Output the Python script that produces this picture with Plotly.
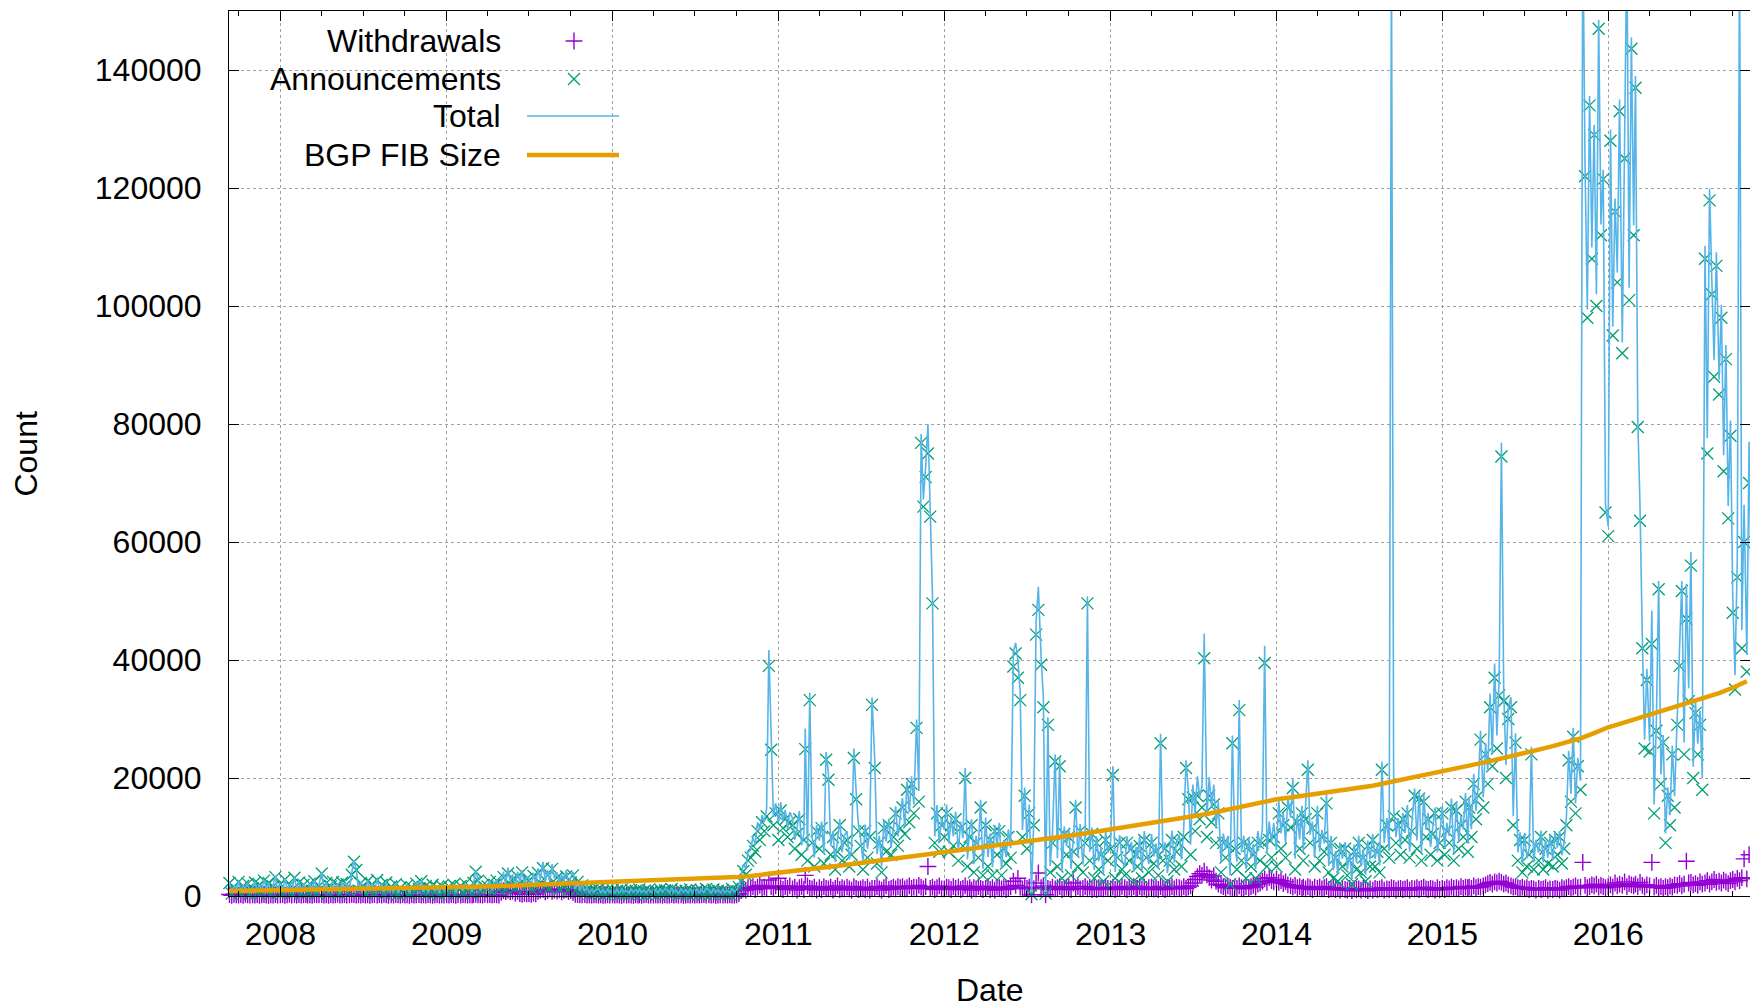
import pandas as pd
import plotly.graph_objects as go

# ---------------- data ----------------
SAMPLE_DAYS = [1, 6, 11, 16, 21, 26]          # sample days within each month
FIRST_MONTH, LAST_MONTH = "2007-09", "2016-11"

# Announcements, 6 samples per month
ANN_2007 = [  # Sep-Dec
    1800, 600, 2200, 400, 1500, 900,
    2400, 500, 1700, 800, 2100, 400,
    1300, 2300, 500, 1900, 700, 2600,
    900, 2200, 400, 1600, 3200, 600,
]
ANN_2008 = [
    2000, 600, 2800, 900, 1800, 500,
    3100, 700, 2300, 400, 1900, 1100,
    600, 2100, 900, 2500, 500, 1700,
    3800, 800, 2200, 500, 1600, 2400,
    700, 1900, 400, 2300, 1000, 2000,
    800, 3600, 5800, 4400, 900, 2200,
    1500, 500, 2500, 800, 2000, 600,
    2700, 900, 1900, 400, 2300, 700,
    1600, 500, 2000, 300, 1400, 900,
    600, 1800, 400, 1500, 800, 2100,
    1200, 2500, 500, 1700, 400, 1300,
    1900, 600, 1400, 300, 1700, 800,
]
ANN_2009 = [
    500, 1600, 800, 1900, 400, 1300,
    1700, 600, 2100, 900, 1500, 500,
    2200, 4100, 2600, 700, 1800, 1000,
    1600, 2400, 800, 1900, 2600, 1100,
    1500, 3200, 1200, 3800, 1700, 2800,
    1400, 3300, 2100, 4000, 1300, 2900,
    2600, 1200, 3400, 1500, 3900, 1800,
    4700, 1600, 3500, 1300, 4600, 2000,
    3100, 1200, 2900, 1500, 3300, 1100,
    2300, 3500, 900, 2400, 700, 1800,
    600, 1200, 400, 1000, 500, 900,
    1100, 400, 900, 300, 1000, 500,
]
ANN_2010 = [
    1000, 400, 900, 300, 1100, 500,
    800, 300, 1000, 500, 900, 400,
    1100, 500, 800, 300, 1000, 600,
    400, 900, 300, 1100, 500, 1000,
    900, 400, 1200, 500, 800, 300,
    1000, 500, 900, 300, 1100, 400,
    500, 1000, 400, 900, 300, 1200,
    800, 300, 1100, 500, 900, 400,
    1000, 400, 800, 300, 1200, 500,
    800, 1500, 2500, 4200, 3600, 6000,
    6500, 8500, 7500, 11000, 9500, 12500,
    11000, 13500, 39000, 24800, 12000, 14000,
]
ANN_2011 = [
    9500, 14500, 11500, 13000, 10000, 12500,
    12000, 8000, 10500, 13000, 7000, 9500,
    24900, 6000, 33200, 9000, 5000, 11000,
    8000, 11500, 5500, 23100, 19700, 7000,
    10000, 4500, 7500, 12000, 6000, 9000,
    9500, 5000, 7000, 23400, 16400, 11000,
    8500, 4500, 11000, 6500, 10000, 32400,
    21700, 5500, 9000, 4000, 11500, 7500,
    12000, 7000, 10000, 14000, 8500, 11500,
    15000, 10500, 18000, 12500, 19000, 14000,
    28500, 16000, 76800, 66000, 71000, 75000,
    64300, 49600, 9000, 14000, 7500, 12000,
]
ANN_2012 = [
    10000, 14000, 7500, 12000, 8500, 13000,
    6000, 11500, 8500, 20000, 5000, 10000,
    12000, 4000, 9000, 6500, 15000, 3500,
    12000, 5000, 9500, 3500, 11000, 7000,
    11000, 3500, 8000, 5500, 10000, 6500,
    38900, 41100, 37000, 33200, 10000, 17000,
    8000, 14000, 300, 12000, 44300, 48500,
    39200, 32000, 400, 29000, 4000, 9000,
    22800, 5000, 22000, 3000, 10500, 7000,
    10000, 3500, 7500, 15000, 5000, 11000,
    4000, 9000, 49600, 6000, 10500, 3000,
    9000, 4500, 7000, 2500, 9500, 6000,
]
ANN_2013 = [
    8000, 20500, 3000, 6500, 9000, 4500,
    3500, 9000, 6000, 8000, 2500, 7000,
    5000, 8500, 3000, 9500, 6500, 4000,
    9000, 5500, 7500, 3500, 25900, 6000,
    8000, 2500, 6000, 9500, 4500, 7500,
    9000, 5000, 10000, 21700, 16400, 7000,
    16700, 11000, 17000, 13000, 15000, 40300,
    10000, 17000, 12500, 15500, 9000, 14000,
    4000, 9000, 6500, 8500, 2000, 25900,
    8000, 4500, 31500, 6000, 9000, 3000,
    8500, 5000, 7000, 3000, 9000, 6000,
    9000, 39500, 5000, 9500, 6500, 10000,
]
ANN_2014 = [
    5000, 14000, 8000, 12000, 6500, 15000,
    11600, 18300, 4500, 12500, 8000, 14000,
    6000, 13000, 21400, 9000, 11500, 5000,
    14000, 6000, 10000, 7500, 15700, 4000,
    9000, 3000, 6500, 2500, 8000, 5000,
    8000, 3500, 6000, 2000, 7500, 4500,
    9000, 4000, 6500, 2500, 8500, 5000,
    9500, 5000, 7500, 4000, 21400, 8000,
    12000, 6500, 160000, 13500, 9000, 12000,
    7000, 13000, 9500, 14000, 6500, 11000,
    17000, 8000, 16500, 6000, 16000, 10000,
    13000, 7000, 10500, 14000, 6000, 9000,
]
ANN_2015 = [
    14000, 7000, 11000, 9000, 15000, 6000,
    14500, 8000, 12000, 10000, 16000, 7500,
    15000, 10000, 19000, 13000, 17000, 26500,
    15000, 24000, 19000, 32000, 22000, 37000,
    25000, 34000, 74500, 33000, 20000, 30000,
    32000, 12000, 26000, 6000, 9500, 4000,
    9500, 5000, 7000, 24000, 4500, 8500,
    6000, 10000, 4500, 8000, 5500, 9000,
    5000, 9500, 7000, 10000, 5500, 8000,
    12000, 23000, 16000, 27000, 14000, 22000,
    18000, 160000, 122000, 98000, 134000, 108000,
    129000, 100000, 147000, 112000, 121500, 65000,
]
ANN_2016 = [  # Jan-Nov
    61000, 128000, 95000, 116000, 104000, 133000,
    92000, 125000, 160000, 101000, 143600, 112000,
    137000, 79500, 63600, 42000, 25000, 36600,
    24500, 42700, 14000, 28000, 52000, 19000,
    26000, 9000, 17000, 12000, 24000, 15000,
    29000, 39000, 51700, 24000, 47000, 33000,
    56000, 20000, 31000, 24000, 29000, 18000,
    108000, 75000, 117900, 102000, 88000, 106800,
    85000, 98000, 72000, 91000, 64000, 78000,
    48000, 35000, 54000, 160000, 42000, 60000,
    38000, 70000, 44000, 50000, 45000, 60000,
]

# Withdrawals, 6 samples per month
WDR_2007 = [
    200, 150, 250, 100, 300, 180,
    150, 220, 120, 260, 180, 140,
    200, 160, 240, 120, 190, 230,
    170, 130, 210, 160, 250, 140,
]
WDR_2008 = [
    180, 240, 130, 200, 260, 150,
    220, 170, 250, 140, 190, 230,
    160, 210, 120, 250, 180, 200,
    240, 150, 190, 130, 220, 170,
    200, 260, 140, 180, 230, 160,
    190, 300, 250, 170, 210, 140,
    230, 160, 200, 120, 180, 250,
    170, 220, 150, 260, 190, 130,
    210, 140, 230, 180, 160, 240,
    150, 200, 130, 220, 170, 190,
    240, 160, 210, 140, 250, 180,
    130, 190, 220, 160, 200, 150,
]
WDR_2009 = [
    200, 150, 240, 180, 130, 220,
    170, 250, 190, 140, 210, 160,
    230, 300, 180, 200, 150, 260,
    190, 220, 160, 240, 200, 170,
    600, 900, 750, 1000, 700, 850,
    500, 800, 400, 300, 450, 350,
    400, 300, 500, 350, 800, 950,
    1100, 700, 900, 1200, 800, 1000,
    850, 1050, 700, 950, 1100, 750,
    900, 600, 300, 250, 200, 180,
    220, 160, 200, 140, 180, 210,
    150, 190, 130, 170, 200, 160,
]
WDR_2010 = [
    180, 140, 200, 160, 120, 190,
    150, 210, 170, 130, 200, 160,
    190, 120, 180, 220, 150, 170,
    140, 200, 160, 190, 130, 210,
    170, 150, 220, 140, 180, 160,
    200, 130, 170, 210, 150, 190,
    160, 190, 140, 180, 220, 150,
    210, 150, 190, 130, 170, 200,
    140, 180, 160, 200, 150, 170,
    200, 400, 900, 1200, 1000, 1400,
    1300, 1600, 1100, 1500, 1800, 1200,
    1500, 1300, 2700, 1600, 1400, 1700,
]
WDR_2011 = [
    3000, 1400, 1100, 1600, 1300, 1700,
    1200, 1500, 1000, 1400, 1600, 1100,
    3500, 1700, 1300, 1200, 1500, 1000,
    1400, 1100, 1600, 1300, 1200, 1500,
    1000, 1300, 1700, 1100, 1400, 1200,
    1500, 1200, 1000, 1600, 1300, 1100,
    1200, 1400, 1100, 1500, 1000, 1300,
    1300, 1600, 1200, 1000, 1400, 1700,
    1100, 1300, 1500, 1200, 1600, 1400,
    1600, 1200, 1400, 1700, 1300, 1500,
    1400, 1800, 1500, 1200, 1600, 5000,
    1300, 1500, 1100, 1400, 1700, 1200,
]
WDR_2012 = [
    1200, 1500, 1400, 1100, 1600, 1300,
    1500, 1100, 1300, 1700, 1200, 1400,
    1000, 1400, 1200, 1600, 1300, 1100,
    1300, 1600, 1100, 1400, 1000, 1500,
    1400, 1200, 1500, 1100, 1300, 1600,
    2500, 1800, 3000, 1500, 1200, 1400,
    1300, 1500, 200, 1200, 2200, 3900,
    1400, 1700, 200, 1300, 1100, 1500,
    1200, 1400, 1600, 1100, 1300, 1500,
    1500, 1100, 2200, 1300, 1600, 1200,
    1300, 1600, 1200, 1500, 1100, 1400,
    1100, 1400, 1300, 1200, 1500, 1300,
]
WDR_2013 = [
    1200, 1500, 1100, 1400, 1300, 1600,
    1400, 1100, 1500, 1200, 1600, 1300,
    1300, 1600, 1200, 1500, 1100, 1400,
    1500, 1200, 1400, 1100, 1600, 1300,
    1100, 1400, 1300, 1600, 1200, 1500,
    1400, 1200, 1600, 1300, 1500, 1700,
    2200, 2800, 3300, 3800, 3500, 4200,
    3600, 3100, 2700, 3400, 2500, 2000,
    1800, 1600, 1400, 1700, 1500, 1300,
    1500, 1300, 1700, 1400, 1200, 1600,
    1400, 1600, 1800, 1500, 2000, 2200,
    2500, 2900, 2300, 3100, 2600, 2400,
]
WDR_2014 = [
    2800, 2300, 2600, 2100, 2400, 1900,
    1700, 1500, 1800, 1400, 1600, 1300,
    1500, 1200, 1600, 1400, 1100, 1500,
    1300, 1500, 1200, 1400, 1600, 1100,
    1200, 1400, 1100, 1300, 1000, 1300,
    1100, 1000, 1300, 900, 1200, 1100,
    1200, 1000, 1300, 1100, 900, 1200,
    1000, 1300, 1100, 1200, 1400, 1000,
    1200, 1100, 1400, 1300, 1000, 1200,
    1300, 1100, 1200, 1400, 1000, 1300,
    1200, 1400, 1100, 1300, 1500, 1200,
    1100, 1300, 1200, 1000, 1400, 1100,
]
WDR_2015 = [
    1300, 1100, 1400, 1200, 1500, 1300,
    1400, 1200, 1600, 1300, 1500, 1400,
    1500, 1300, 1700, 1400, 1600, 1500,
    1700, 1900, 2100, 2300, 2000, 2400,
    2200, 2500, 2300, 2000, 2200, 1900,
    1700, 1500, 1600, 1400, 1300, 1500,
    1200, 1400, 1100, 1300, 1200, 1000,
    1300, 1100, 1200, 1400, 1000, 1200,
    1100, 1300, 1200, 1000, 1400, 1200,
    1400, 1600, 1300, 1500, 1700, 1400,
    1500, 5700, 1800, 1400, 1600, 1900,
    1700, 2000, 1500, 1800, 1600, 1400,
]
WDR_2016 = [  # Jan-Nov
    1600, 1900, 1500, 2200, 1700, 2000,
    1800, 2400, 1600, 2100, 1900, 1700,
    2000, 1600, 2300, 1800, 1500, 1900,
    1700, 5700, 1500, 1800, 1400, 1600,
    1300, 1600, 1400, 1700, 1500, 1900,
    1800, 2100, 1700, 2000, 5900, 2200,
    2300, 1900, 2100, 1800, 2400, 2000,
    2200, 2600, 2000, 2400, 2800, 2300,
    2500, 2200, 2700, 2400, 2100, 2600,
    2800, 2400, 3000, 2600, 3100, 6300,
    2900, 7000, 3200, 2700, 3300, 3000,
]

# BGP FIB size, one value per month (1st of month)
FIB_2007 = [850, 880, 900, 930]
FIB_2008 = [960, 990, 1020, 1060, 1100, 1150, 1200, 1240, 1280, 1320, 1360, 1400]
FIB_2009 = [1450, 1500, 1550, 1620, 1700, 1780, 1860, 1940, 2020, 2100, 2200, 2300]
FIB_2010 = [2400, 2480, 2560, 2640, 2720, 2800, 2880, 2960, 3050, 3200, 3400, 3650]
FIB_2011 = [3900, 4150, 4400, 4700, 5000, 5300, 5600, 5900, 6200, 6550, 6900, 7200]
FIB_2012 = [7500, 7750, 8000, 8300, 8600, 8900, 9200, 9500, 9850, 10200, 10550, 10900]
FIB_2013 = [11300, 11650, 12000, 12350, 12700, 13100, 13500, 13900, 14400, 14900, 15400, 15900]
FIB_2014 = [16400, 16700, 17000, 17300, 17600, 17900, 18300, 18700, 19200, 19700, 20200, 20700]
FIB_2015 = [21300, 21700, 22100, 22600, 23100, 23600, 24200, 24800, 25400, 26000, 26700, 27600]
FIB_2016 = [28600, 29300, 30000, 30700, 31400, 32100, 32800, 33600, 34400, 35300, 36400]

Y_TICKS = [0, 20000, 40000, 60000, 80000, 100000, 120000, 140000]
LEGEND_LABELS = ["Withdrawals", "Announcements", "Total", "BGP FIB Size"]

# ---------------- assemble ----------------
months = pd.period_range(FIRST_MONTH, LAST_MONTH, freq="M")
dates = [f"{p.year}-{p.month:02d}-{d:02d}" for p in months for d in SAMPLE_DAYS]
fib_dates = [f"{p.year}-{p.month:02d}-01" for p in months]

ann = (ANN_2007 + ANN_2008 + ANN_2009 + ANN_2010 + ANN_2011 + ANN_2012
       + ANN_2013 + ANN_2014 + ANN_2015 + ANN_2016)
wdr = (WDR_2007 + WDR_2008 + WDR_2009 + WDR_2010 + WDR_2011 + WDR_2012
       + WDR_2013 + WDR_2014 + WDR_2015 + WDR_2016)
fib = (FIB_2007 + FIB_2008 + FIB_2009 + FIB_2010 + FIB_2011 + FIB_2012
       + FIB_2013 + FIB_2014 + FIB_2015 + FIB_2016)
n = min(len(dates), len(ann), len(wdr))
dates, ann, wdr = dates[:n], ann[:n], wdr[:n]
total = [a + w for a, w in zip(ann, wdr)]
m = min(len(fib_dates), len(fib))
fib_dates, fib = fib_dates[:m], fib[:m]

PURPLE, GREEN, BLUE, ORANGE = "#9400D3", "#009E73", "#56B4E9", "#E69F00"
FONT = "Liberation Sans, Arial, Helvetica, sans-serif"
FS = 32

fig = go.Figure()
fig.add_trace(go.Scatter(x=dates, y=wdr, mode="markers", cliponaxis=False,
                         marker=dict(symbol="cross-thin", size=12,
                                     line=dict(width=1.4, color=PURPLE)),
                         showlegend=False))
fig.add_trace(go.Scatter(x=dates, y=ann, mode="markers", cliponaxis=False,
                         marker=dict(symbol="x-thin", size=12,
                                     line=dict(width=1.3, color=GREEN)),
                         showlegend=False))
fig.add_trace(go.Scatter(x=dates, y=total, mode="lines",
                         line=dict(color=BLUE, width=1.6), showlegend=False))
fig.add_trace(go.Scatter(x=fib_dates, y=fib, mode="lines",
                         line=dict(color=ORANGE, width=4.5), showlegend=False))

# ---- gnuplot-style key (text right-justified, sample to the right) ----
key_y = [0.9661, 0.9232, 0.8814, 0.8373]
key_text_x = 0.1801
key_sample_x = 0.2268
fig.add_trace(go.Scatter(x=[key_sample_x], y=[key_y[0]], xaxis="x2", yaxis="y2",
                         mode="markers", cliponaxis=False,
                         marker=dict(symbol="cross-thin", size=12,
                                     line=dict(width=1.4, color=PURPLE)),
                         showlegend=False, hoverinfo="skip"))
fig.add_trace(go.Scatter(x=[key_sample_x], y=[key_y[1]], xaxis="x2", yaxis="y2",
                         mode="markers", cliponaxis=False,
                         marker=dict(symbol="x-thin", size=12,
                                     line=dict(width=1.3, color=GREEN)),
                         showlegend=False, hoverinfo="skip"))
fig.add_trace(go.Scatter(x=[0.1959, 0.2564], y=[key_y[2]] * 2, xaxis="x2", yaxis="y2",
                         mode="lines", line=dict(color=BLUE, width=1.6),
                         showlegend=False, hoverinfo="skip"))
fig.add_trace(go.Scatter(x=[0.1959, 0.2564], y=[key_y[3]] * 2, xaxis="x2", yaxis="y2",
                         mode="lines", line=dict(color=ORANGE, width=4.5),
                         showlegend=False, hoverinfo="skip"))

annotations = []
for label, ky in zip(LEGEND_LABELS, key_y):
    annotations.append(dict(text=label, x=key_text_x, y=ky, xref="paper", yref="paper",
                            xanchor="right", yanchor="middle", showarrow=False,
                            font=dict(family=FONT, size=FS, color="black")))
annotations.append(dict(text="Count", x=-0.1341, y=0.5, xref="paper", yref="paper",
                        textangle=-90, xanchor="center", yanchor="middle",
                        showarrow=False, font=dict(family=FONT, size=FS, color="black")))
annotations.append(dict(text="Date", x=0.5, y=-0.1062, xref="paper", yref="paper",
                        xanchor="center", yanchor="middle", showarrow=False,
                        font=dict(family=FONT, size=FS, color="black")))

axis_common = dict(
    ticks="inside", ticklen=10, tickwidth=1, tickcolor="black",
    showline=True, linecolor="black", linewidth=1, mirror="ticks",
    showgrid=True, gridcolor="#a0a0a0", gridwidth=1, griddash="3px,3px",
    zeroline=False, tickfont=dict(family=FONT, size=FS, color="black"),
)

fig.update_layout(
    width=1750, height=1007,
    margin=dict(l=229, r=0, t=11, b=111, pad=0),
    paper_bgcolor="white", plot_bgcolor="white",
    font=dict(family=FONT, size=FS, color="black"),
    xaxis=dict(type="date", range=["2007-09-10", "2016-11-08"],
               tick0="2008-01-01", dtick="M12", tickformat="%Y",
               ticklabelstandoff=10,
               minor=dict(dtick="M3", tick0="2008-01-01", ticks="inside", ticklen=5,
                          tickcolor="black", showgrid=False),
               **axis_common),
    yaxis=dict(range=[0, 150000], tickvals=Y_TICKS, tickformat="d",
               ticklabelstandoff=20, **axis_common),
    xaxis2=dict(overlaying="x", anchor="y2", range=[0, 1], visible=False, fixedrange=True),
    yaxis2=dict(overlaying="y", anchor="x2", range=[0, 1], visible=False, fixedrange=True),
    shapes=[dict(type="rect", xref="paper", yref="paper", x0=0, x1=0.269,
                 y0=0.8136, y1=1, fillcolor="white", line=dict(width=0),
                 layer="between")],
    annotations=annotations,
    hovermode=False,
)

fig.write_html("out.html", config={"displayModeBar": False},
               post_script="document.body.style.margin='0';document.body.style.overflow='hidden';")
